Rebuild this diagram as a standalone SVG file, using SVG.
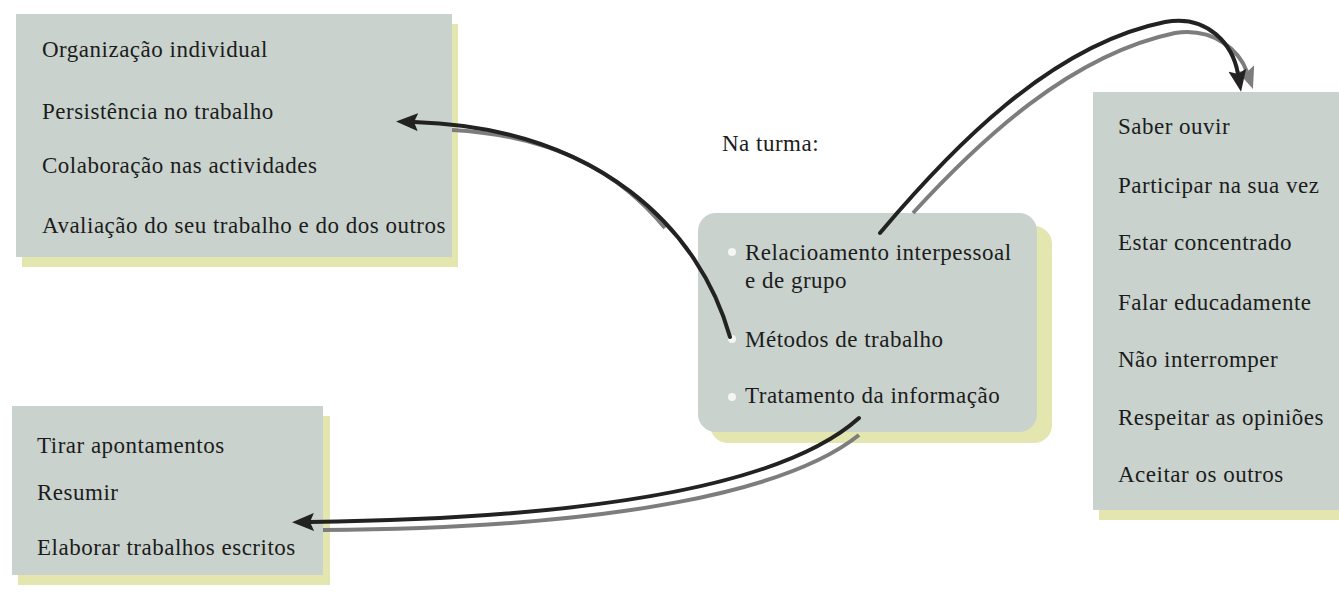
<svg xmlns="http://www.w3.org/2000/svg" width="1339" height="595" viewBox="0 0 1339 595">
<style>
  .box { fill: #c9d2cd; }
  .shadow { fill: #e4e6b0; }
  .t { font-family: 'Liberation Serif', 'DejaVu Serif', 'Times New Roman', serif; font-size: 23px; fill: #1c1c1c; letter-spacing: 0.5px; }
  .blk { fill: none; stroke: #222; stroke-width: 4; stroke-linecap: round; }
  .gry { fill: none; stroke: #7d7d7d; stroke-width: 4; stroke-linecap: butt; }
  .bullet { fill: #f4f6f2; }
</style>
<defs>
  <marker id="ah" viewBox="0 0 22 18" refX="4" refY="9" markerWidth="22" markerHeight="18" markerUnits="userSpaceOnUse" orient="auto">
    <path d="M0,0 L22,9 L0,18 L4,9 z" fill="#222"/>
  </marker>
  <marker id="ahg" viewBox="0 0 22 18" refX="4" refY="9" markerWidth="22" markerHeight="18" markerUnits="userSpaceOnUse" orient="auto">
    <path d="M0,0 L22,9 L0,18 L4,9 z" fill="#7d7d7d"/>
  </marker>
</defs>
<rect width="1339" height="595" fill="#ffffff"/>

<g id="box-individual">
  <rect class="shadow" x="22" y="24" width="436" height="243"/>
  <rect class="box" x="16" y="14" width="436" height="243"/>
  <text class="t" x="42" y="57" font-family="Liberation Serif, DejaVu Serif, serif">Organização individual</text>
  <text class="t" x="42" y="119" font-family="Liberation Serif, DejaVu Serif, serif">Persistência no trabalho</text>
  <text class="t" x="42" y="173" font-family="Liberation Serif, DejaVu Serif, serif">Colaboração nas actividades</text>
  <text class="t" x="42" y="233" font-family="Liberation Serif, DejaVu Serif, serif">Avaliação do seu trabalho e do dos outros</text>
</g>

<g id="box-informacao">
  <rect class="shadow" x="18" y="416" width="312" height="169"/>
  <rect class="box" x="12" y="406" width="311" height="169"/>
  <text class="t" x="37" y="453">Tirar apontamentos</text>
  <text class="t" x="37" y="500">Resumir</text>
  <text class="t" x="37" y="555">Elaborar trabalhos escritos</text>
</g>

<g id="label-turma">
  <text class="t" x="722" y="151">Na turma:</text>
</g>

<g id="box-turma">
  <rect class="shadow" x="710" y="226" width="342" height="217" rx="18"/>
  <rect class="box" x="698" y="213" width="339" height="219" rx="18"/>
  <circle class="bullet" cx="732" cy="252" r="4"/>
  <circle class="bullet" cx="732" cy="339" r="4"/>
  <circle class="bullet" cx="732" cy="397" r="4"/>
  <text class="t" x="745" y="260">Relacioamento interpessoal</text>
  <text class="t" x="745" y="288">e de grupo</text>
  <text class="t" x="745" y="347">Métodos de trabalho</text>
  <text class="t" x="745" y="403">Tratamento da informação</text>
</g>

<g id="box-relacionamento">
  <rect class="shadow" x="1099" y="100" width="240" height="420"/>
  <rect class="box" x="1093" y="92" width="246" height="418"/>
  <text class="t" x="1118" y="134">Saber ouvir</text>
  <text class="t" x="1118" y="193">Participar na sua vez</text>
  <text class="t" x="1118" y="250">Estar concentrado</text>
  <text class="t" x="1118" y="310">Falar educadamente</text>
  <text class="t" x="1118" y="367">Não interromper</text>
  <text class="t" x="1118" y="425">Respeitar as opiniões</text>
  <text class="t" x="1118" y="482">Aceitar os outros</text>
</g>

<g id="connectors">
  <path class="gry" d="M665,228 C622,176 560,136 452,130"/>
  <path class="blk" d="M730,337 C700,230 600,128 414,122" marker-end="url(#ah)"/>

  <path class="gry" d="M913,213 C980,140 1070,55 1175,33 C1215,27 1240,52 1247,72" marker-end="url(#ahg)"/>
  <path class="blk" d="M880,233 C950,150 1050,45 1165,22 C1208,14 1233,45 1238,74" marker-end="url(#ah)"/>

  <path class="gry" d="M859,435 C790,490 620,528 323,530"/>
  <path class="blk" d="M859,418 C790,480 620,518 310,522" marker-end="url(#ah)"/>
</g>
</svg>
